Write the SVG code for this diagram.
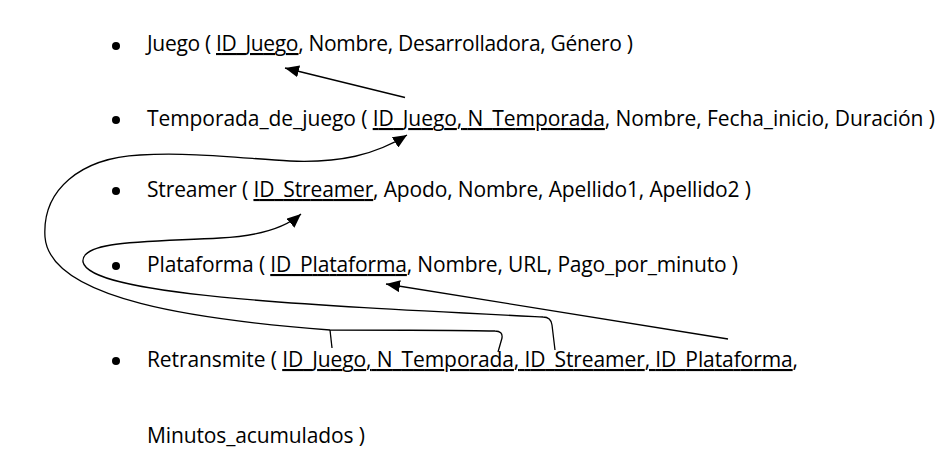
<svg xmlns="http://www.w3.org/2000/svg" width="947" height="465" viewBox="0 0 947 465">
<style>
  .t { font-family: "Open Sans", "Liberation Sans", sans-serif; font-size: 21px; fill: #000; }
  .u { text-decoration: underline; text-decoration-thickness: 2px; text-underline-offset: 3px; }
  .b { fill: #000; }
  .c { fill: none; stroke: #000; stroke-width: 1.3; }
</style>
<defs>
  <marker id="ah" markerUnits="userSpaceOnUse" markerWidth="16" markerHeight="12" refX="14" refY="6" orient="auto">
    <path d="M0,0 L14,6 L0,12 Z" fill="#000"/>
  </marker>
</defs>
<rect width="947" height="465" fill="#fff"/>
<g id="juego">
  <circle class="b" cx="116" cy="46" r="4"/>
  <text class="t" x="147" y="51" textLength="486" lengthAdjust="spacing">Juego ( <tspan class="u">ID_Juego</tspan>, Nombre, Desarrolladora, Género )</text>
</g>
<g id="temporada">
  <circle class="b" cx="116" cy="120" r="4"/>
  <text class="t" x="147" y="126" textLength="788" lengthAdjust="spacing">Temporada_de_juego ( <tspan class="u">ID_Juego, N_Temporada</tspan>, Nombre, Fecha_inicio, Duración )</text>
</g>
<g id="streamer">
  <circle class="b" cx="116" cy="191" r="4"/>
  <text class="t" x="147" y="197" textLength="604" lengthAdjust="spacing">Streamer ( <tspan class="u">ID_Streamer</tspan>, Apodo, Nombre, Apellido1, Apellido2 )</text>
</g>
<g id="plataforma">
  <circle class="b" cx="116" cy="266" r="4"/>
  <text class="t" x="147" y="272" textLength="591" lengthAdjust="spacing">Plataforma ( <tspan class="u">ID_Plataforma</tspan>, Nombre, URL, Pago_por_minuto )</text>
</g>
<g id="retransmite">
  <circle class="b" cx="116" cy="361" r="4"/>
  <text class="t" x="147" y="367" textLength="651" lengthAdjust="spacing">Retransmite ( <tspan class="u">ID_Juego, N_Temporada, ID_Streamer, ID_Plataforma</tspan>,</text>
  <text class="t" x="147" y="443" textLength="218" lengthAdjust="spacing">Minutos_acumulados )</text>
</g>
<g id="connectors">
  <path class="c" d="M405,97.5 L285,68" marker-end="url(#ah)"/>
  <path class="c" d="M498,352 L502,338 Q503,331 495,331 C450,330 380,330 330,330 C200,320 50,300 45,237 C42,190 80,158 140,155 C190,152 240,158 290,161 C340,163 375,155 407,135" marker-end="url(#ah)"/>
  <path class="c" d="M332,348 L330,330"/>
  <path class="c" d="M555,350 L552,325 Q551,317 543,317 C300,305 90,295 83,262 C80,240 150,242 220,238 C260,236 285,228 301,214" marker-end="url(#ah)"/>
  <path class="c" d="M728,339 L386,284" marker-end="url(#ah)"/>
</g>
</svg>
